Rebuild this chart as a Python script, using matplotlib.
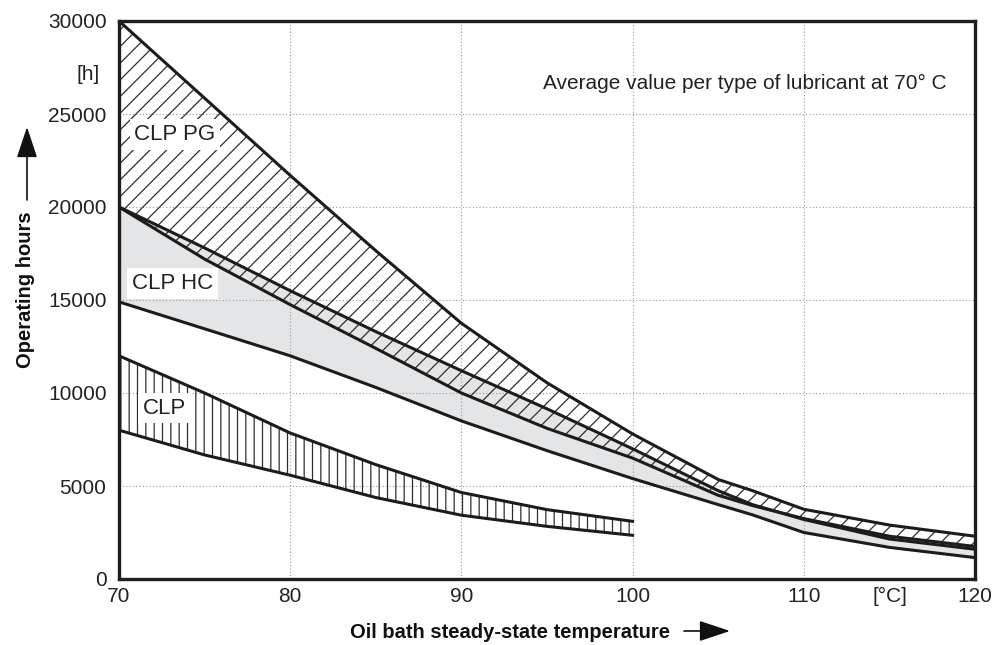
import matplotlib
matplotlib.use('Agg')
import matplotlib.pyplot as plt

plt.rcParams['font.family'] = ['Liberation Sans', 'DejaVu Sans']
plt.rcParams['hatch.linewidth'] = 0.9

# ---- data ----
temps = [70, 75, 80, 85, 90, 95, 100, 105, 107, 110, 115, 120]
pg_upper = [30000, 25850, 21700, 17650, 13750, 10550, 7800, 5350, 4750, 3750, 2900, 2300]
pg_lower = [20000, 17200, 14750, 12400, 10000, 8100, 6500, 4500, 3950, 3250, 2300, 1750]
hc_upper = [20000, 17800, 15500, 13300, 11200, 9150, 7000, 4750, 4000, 3200, 2150, 1600]
hc_lower = [14900, 13450, 12000, 10300, 8500, 6900, 5400, 4000, 3450, 2500, 1700, 1150]

clp_temps = [70, 75, 80, 85, 90, 95, 100]
clp_upper = [12000, 10000, 7850, 6150, 4650, 3730, 3100]
clp_lower = [8000, 6670, 5580, 4380, 3430, 2830, 2350]

x_ticks = [70, 80, 90, 100, 110, 120]
y_ticks = [0, 5000, 10000, 15000, 20000, 25000, 30000]

W, H = 996, 645
fig = plt.figure(figsize=(W / 100, H / 100), dpi=100)
ax = fig.add_axes([119 / W, (H - 579) / H, (975 - 119) / W, (579 - 21) / H])
ax.set_xlim(70, 120)
ax.set_ylim(0, 30000)

line_c = '#1c1c1c'
hatch_c = '#2e2e2e'

# HC band (gray)
ax.fill_between(temps, hc_lower, hc_upper, facecolor='#e4e5e7', edgecolor='none', zorder=0.3)
# PG band (diagonal hatch)
ax.fill_between(temps, pg_lower, pg_upper, facecolor='none', edgecolor=hatch_c,
                hatch='//', linewidth=0, zorder=1)
# CLP band (vertical hatch)
ax.fill_between(clp_temps, clp_lower, clp_upper, facecolor='none', edgecolor=hatch_c,
                hatch='||', linewidth=0, zorder=1)

for ys in (pg_upper, pg_lower, hc_upper, hc_lower):
    ax.plot(temps, ys, color=line_c, lw=2.2, zorder=3, solid_joinstyle='round')
for ys in (clp_upper, clp_lower):
    ax.plot(clp_temps, ys, color=line_c, lw=2.2, zorder=3, solid_joinstyle='round')

ax.set_xticks(x_ticks)
ax.set_yticks(y_ticks)
ax.set_xticklabels([str(v) for v in x_ticks])
ax.set_yticklabels([str(v) for v in y_ticks])
ax.grid(True, linestyle=(0, (1, 2)), color='#9a9a9a', lw=0.8)
ax.set_axisbelow(True)
ax.tick_params(axis='both', length=0, labelsize=15, colors='#222222')
ax.tick_params(axis='x', pad=6)
ax.tick_params(axis='y', pad=9)
for s in ax.spines.values():
    s.set_linewidth(2.4)
    s.set_color('#1e1e1e')
    s.set_zorder(5)

box = dict(boxstyle='square,pad=0.22', facecolor='white', edgecolor='none')
ax.text(70.9, 23900, 'CLP PG', fontsize=16, color='#222222', ha='left', va='center', bbox=box, zorder=4)
ax.text(70.76, 15900, 'CLP HC', fontsize=16, color='#222222', ha='left', va='center', bbox=box, zorder=4)
ax.text(71.4, 9190, 'CLP', fontsize=16, color='#222222', ha='left', va='center', bbox=box, zorder=4)

fig.text(947 / W, 1 - 83 / H, 'Average value per type of lubricant at 70° C',
         fontsize=15, color='#222222', ha='right', va='center')
fig.text(100 / W, 1 - 75 / H, '[h]', fontsize=15, color='#222222', ha='right', va='center')
fig.text(890 / W, 1 - 596 / H, '[°C]', fontsize=15, color='#222222', ha='center', va='center')

# axis titles with arrows
fig.text(26 / W, 1 - 290 / H, 'Operating hours', rotation=90, fontsize=14.5,
         fontweight='bold', color='#111111', ha='center', va='center')
fig.text(350 / W, 7 / H, 'Oil bath steady-state temperature', fontsize=14.5,
         fontweight='bold', color='#111111', ha='left', va='baseline')

arrow_kw = dict(arrowstyle='-|>,head_length=1.2,head_width=0.4', lw=1.2, color='#111111',
                shrinkA=0, shrinkB=0, mutation_scale=16)
fig.add_artist(matplotlib.patches.FancyArrowPatch((27, H - 200), (27, H - 127),
               transform=None, **arrow_kw))
fig.add_artist(matplotlib.patches.FancyArrowPatch((684, 14), (730, 14),
               transform=None, **arrow_kw))

fig.savefig('out.png', dpi=100)
